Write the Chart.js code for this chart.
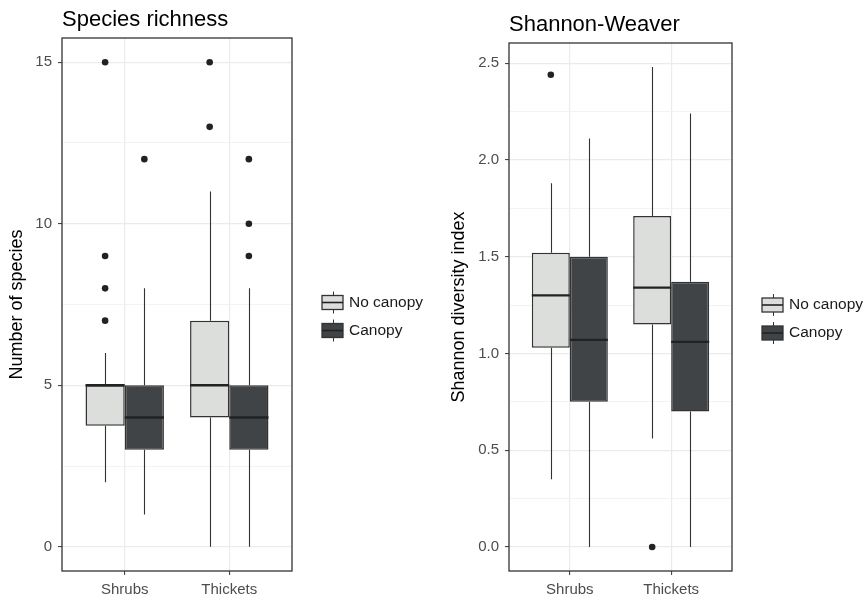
<!DOCTYPE html>
<html>
<head>
<meta charset="utf-8">
<script src="https://cdn.jsdelivr.net/npm/chart.js@4.4.1/dist/chart.umd.min.js"></script>
<style>
  html, body { margin: 0; padding: 0; background: #fff; }
  #wrap { position: relative; width: 866px; height: 601px; }
  canvas { position: absolute; top: 0; }
</style>
</head>
<body>
<div id="wrap">
  <canvas id="rich" width="445" height="601" style="left:0"></canvas>
  <canvas id="shannon" width="421" height="601" style="left:445px"></canvas>
</div>
<script>
const categories = ['Shrubs', 'Thickets'];
const groups = ['No canopy', 'Canopy'];
const fills = ['#dcdedb', '#404447'];

// per category: [lower whisker, Q1, median, Q3, upper whisker]
const richNoCanopy = [[2, 3.75, 5, 5, 6], [0, 4, 5, 7, 11]];
const richCanopy = [[1, 3, 4, 5, 8], [0, 3, 4, 5, 8]];
const richNoCanopyOut = [[7, 8, 9, 15], [13, 15]];
const richCanopyOut = [[12], [9, 10, 12]];
const richTicks = [0, 5, 10, 15];

const shanNoCanopy = [[0.35, 1.03, 1.30, 1.52, 1.88], [0.56, 1.15, 1.34, 1.71, 2.48]];
const shanCanopy = [[0, 0.75, 1.07, 1.50, 2.11], [0, 0.70, 1.06, 1.37, 2.24]];
const shanNoCanopyOut = [[2.44], [0]];
const shanCanopyOut = [[], []];
const shanTicks = [0, 0.5, 1, 1.5, 2, 2.5];

const FONT = "'Liberation Sans', Arial, sans-serif";
const dodge = 0.75;

function makePanel(id, cfg) {
  const boxes = [cfg.noCanopy, cfg.canopy];
  const outs = [cfg.noCanopyOut, cfg.canopyOut];

  // ggplot style 5% expansion of the data range
  const all = boxes.flat(2).concat(outs.flat(2));
  const lo = Math.min(...all), hi = Math.max(...all);
  const pad = (hi - lo) * 0.05;

  const minor = cfg.ticks.slice(1).map((t, i) => (t + cfg.ticks[i]) / 2);
  const allTicks = cfg.ticks.concat(minor).sort((a, b) => a - b);
  const isMajor = (v) => cfg.ticks.some((t) => Math.abs(t - v) < 1e-9);

  const datasets = boxes.map((stats, g) => ({
    label: groups[g],
    data: stats.map((s, i) => ({ x: i + 1, y: [s[1], s[3]] })),
    backgroundColor: fills[g],
    borderColor: '#333333',
    borderWidth: 1.5,
    borderSkipped: false,
    categoryPercentage: dodge,
    barPercentage: 1,
  }));

  const outPts = [];
  outs.forEach((byCat, g) => {
    byCat.forEach((vals, i) => {
      vals.forEach((v) => {
        outPts.push({ x: i + 1 + (g === 0 ? -1 : 1) * dodge / 4, y: v });
      });
    });
  });
  datasets.push({
    type: 'scatter',
    data: outPts,
    pointRadius: 3.3,
    pointBackgroundColor: '#222222',
    pointBorderWidth: 0,
  });

  const extras = {
    id: 'boxExtras',
    afterDatasetsDraw(chart) {
      const ctx = chart.ctx;
      const y = chart.scales.y;
      ctx.save();
      boxes.forEach((stats, g) => {
        const meta = chart.getDatasetMeta(g);
        stats.forEach((s, i) => {
          const el = meta.data[i];
          const x = Math.round(el.x) + 0.5;
          ctx.strokeStyle = '#333333';
          ctx.lineWidth = 1.1;
          ctx.beginPath();
          ctx.moveTo(x, y.getPixelForValue(s[0]));
          ctx.lineTo(x, y.getPixelForValue(s[1]));
          ctx.moveTo(x, y.getPixelForValue(s[3]));
          ctx.lineTo(x, y.getPixelForValue(s[4]));
          ctx.stroke();
          ctx.strokeStyle = '#222222';
          ctx.lineWidth = 2.4;
          ctx.beginPath();
          const ym = y.getPixelForValue(s[2]);
          ctx.moveTo(el.x - el.width / 2, ym);
          ctx.lineTo(el.x + el.width / 2, ym);
          ctx.stroke();
        });
      });
      ctx.restore();
    },
    afterDraw(chart) {
      const ctx = chart.ctx;
      const a = chart.chartArea;
      ctx.save();
      // panel border
      ctx.strokeStyle = '#333333';
      ctx.lineWidth = 1.3;
      ctx.strokeRect(a.left, a.top, a.right - a.left, a.bottom - a.top);

      // title
      ctx.fillStyle = '#000000';
      ctx.font = '22px ' + FONT;
      ctx.textAlign = 'left';
      ctx.textBaseline = 'alphabetic';
      ctx.fillText(cfg.title, a.left, a.top - 12);

      // legend
      const mid = (a.top + a.bottom) / 2 + 12;
      const kx = a.right + 30, kw = 21;
      groups.forEach((name, g) => {
        const cy = mid + (g === 0 ? -14 : 14);
        const cx = kx + Math.round(kw / 2) + 0.5;
        ctx.strokeStyle = '#333333';
        ctx.lineWidth = 1;
        ctx.beginPath();
        ctx.moveTo(cx, cy - 11);
        ctx.lineTo(cx, cy + 11);
        ctx.stroke();
        ctx.fillStyle = fills[g];
        ctx.fillRect(kx, cy - 7, kw, 14);
        ctx.lineWidth = 1.3;
        ctx.strokeRect(kx, cy - 7, kw, 14);
        ctx.strokeStyle = '#222222';
        ctx.lineWidth = 1.6;
        ctx.beginPath();
        ctx.moveTo(kx, cy);
        ctx.lineTo(kx + kw, cy);
        ctx.stroke();
        ctx.fillStyle = '#1a1a1a';
        ctx.font = '15.5px ' + FONT;
        ctx.textBaseline = 'middle';
        ctx.fillText(name, kx + kw + 6, cy);
      });
      ctx.restore();
    },
  };

  return new Chart(document.getElementById(id), {
    type: 'bar',
    data: { datasets: datasets },
    plugins: [extras],
    options: {
      responsive: false,
      animation: false,
      events: [],
      layout: { padding: { top: cfg.top, right: cfg.right, left: 0, bottom: 0 } },
      plugins: { legend: { display: false }, tooltip: { enabled: false } },
      scales: {
        x: {
          type: 'linear',
          min: 0.4,
          max: 2.6,
          offset: false,
          afterBuildTicks: (s) => { s.ticks = categories.map((c, i) => ({ value: i + 1 })); },
          afterFit: (s) => { s.height = 30; },
          ticks: {
            callback: (v) => categories[Math.round(v) - 1],
            color: '#4d4d4d',
            font: { family: FONT, size: 15 },
            padding: 6,
            autoSkip: false,
            maxRotation: 0,
          },
          grid: { offset: false, color: '#ebebeb', lineWidth: 1.2, tickColor: '#333333', tickLength: 4, tickWidth: 1 },
          border: { display: false },
        },
        y: {
          type: 'linear',
          min: lo - pad,
          max: hi + pad,
          afterBuildTicks: (s) => { s.ticks = allTicks.map((v) => ({ value: v })); },
          afterFit: (s) => { s.width = cfg.axisW; },
          ticks: {
            callback: (v) => (isMajor(v) ? cfg.fmt(v) : ''),
            color: '#4d4d4d',
            font: { family: FONT, size: 15 },
            padding: 6,
            autoSkip: false,
          },
          grid: {
            color: (c) => (c.tick && isMajor(c.tick.value) ? '#ebebeb' : '#f2f2f2'),
            lineWidth: (c) => (c.tick && isMajor(c.tick.value) ? 1.2 : 0.9),
            tickColor: (c) => (c.tick && isMajor(c.tick.value) ? '#333333' : 'rgba(0,0,0,0)'),
            tickLength: 4,
            tickWidth: 1,
          },
          border: { display: false },
          title: {
            display: true,
            text: cfg.yTitle,
            color: '#000000',
            font: { family: FONT, size: 18 },
            padding: { top: cfg.titlePad, bottom: 0 },
          },
        },
      },
    },
  });
}

makePanel('rich', {
  title: 'Species richness',
  yTitle: 'Number of species',
  noCanopy: richNoCanopy, canopy: richCanopy,
  noCanopyOut: richNoCanopyOut, canopyOut: richCanopyOut,
  ticks: richTicks,
  fmt: (v) => String(v),
  top: 38, right: 153, axisW: 62, titlePad: 6,
});

makePanel('shannon', {
  title: 'Shannon-Weaver',
  yTitle: 'Shannon diversity index',
  noCanopy: shanNoCanopy, canopy: shanCanopy,
  noCanopyOut: shanNoCanopyOut, canopyOut: shanCanopyOut,
  ticks: shanTicks,
  fmt: (v) => v.toFixed(1),
  top: 43, right: 134, axisW: 64, titlePad: 3,
});
</script>
</body>
</html>
